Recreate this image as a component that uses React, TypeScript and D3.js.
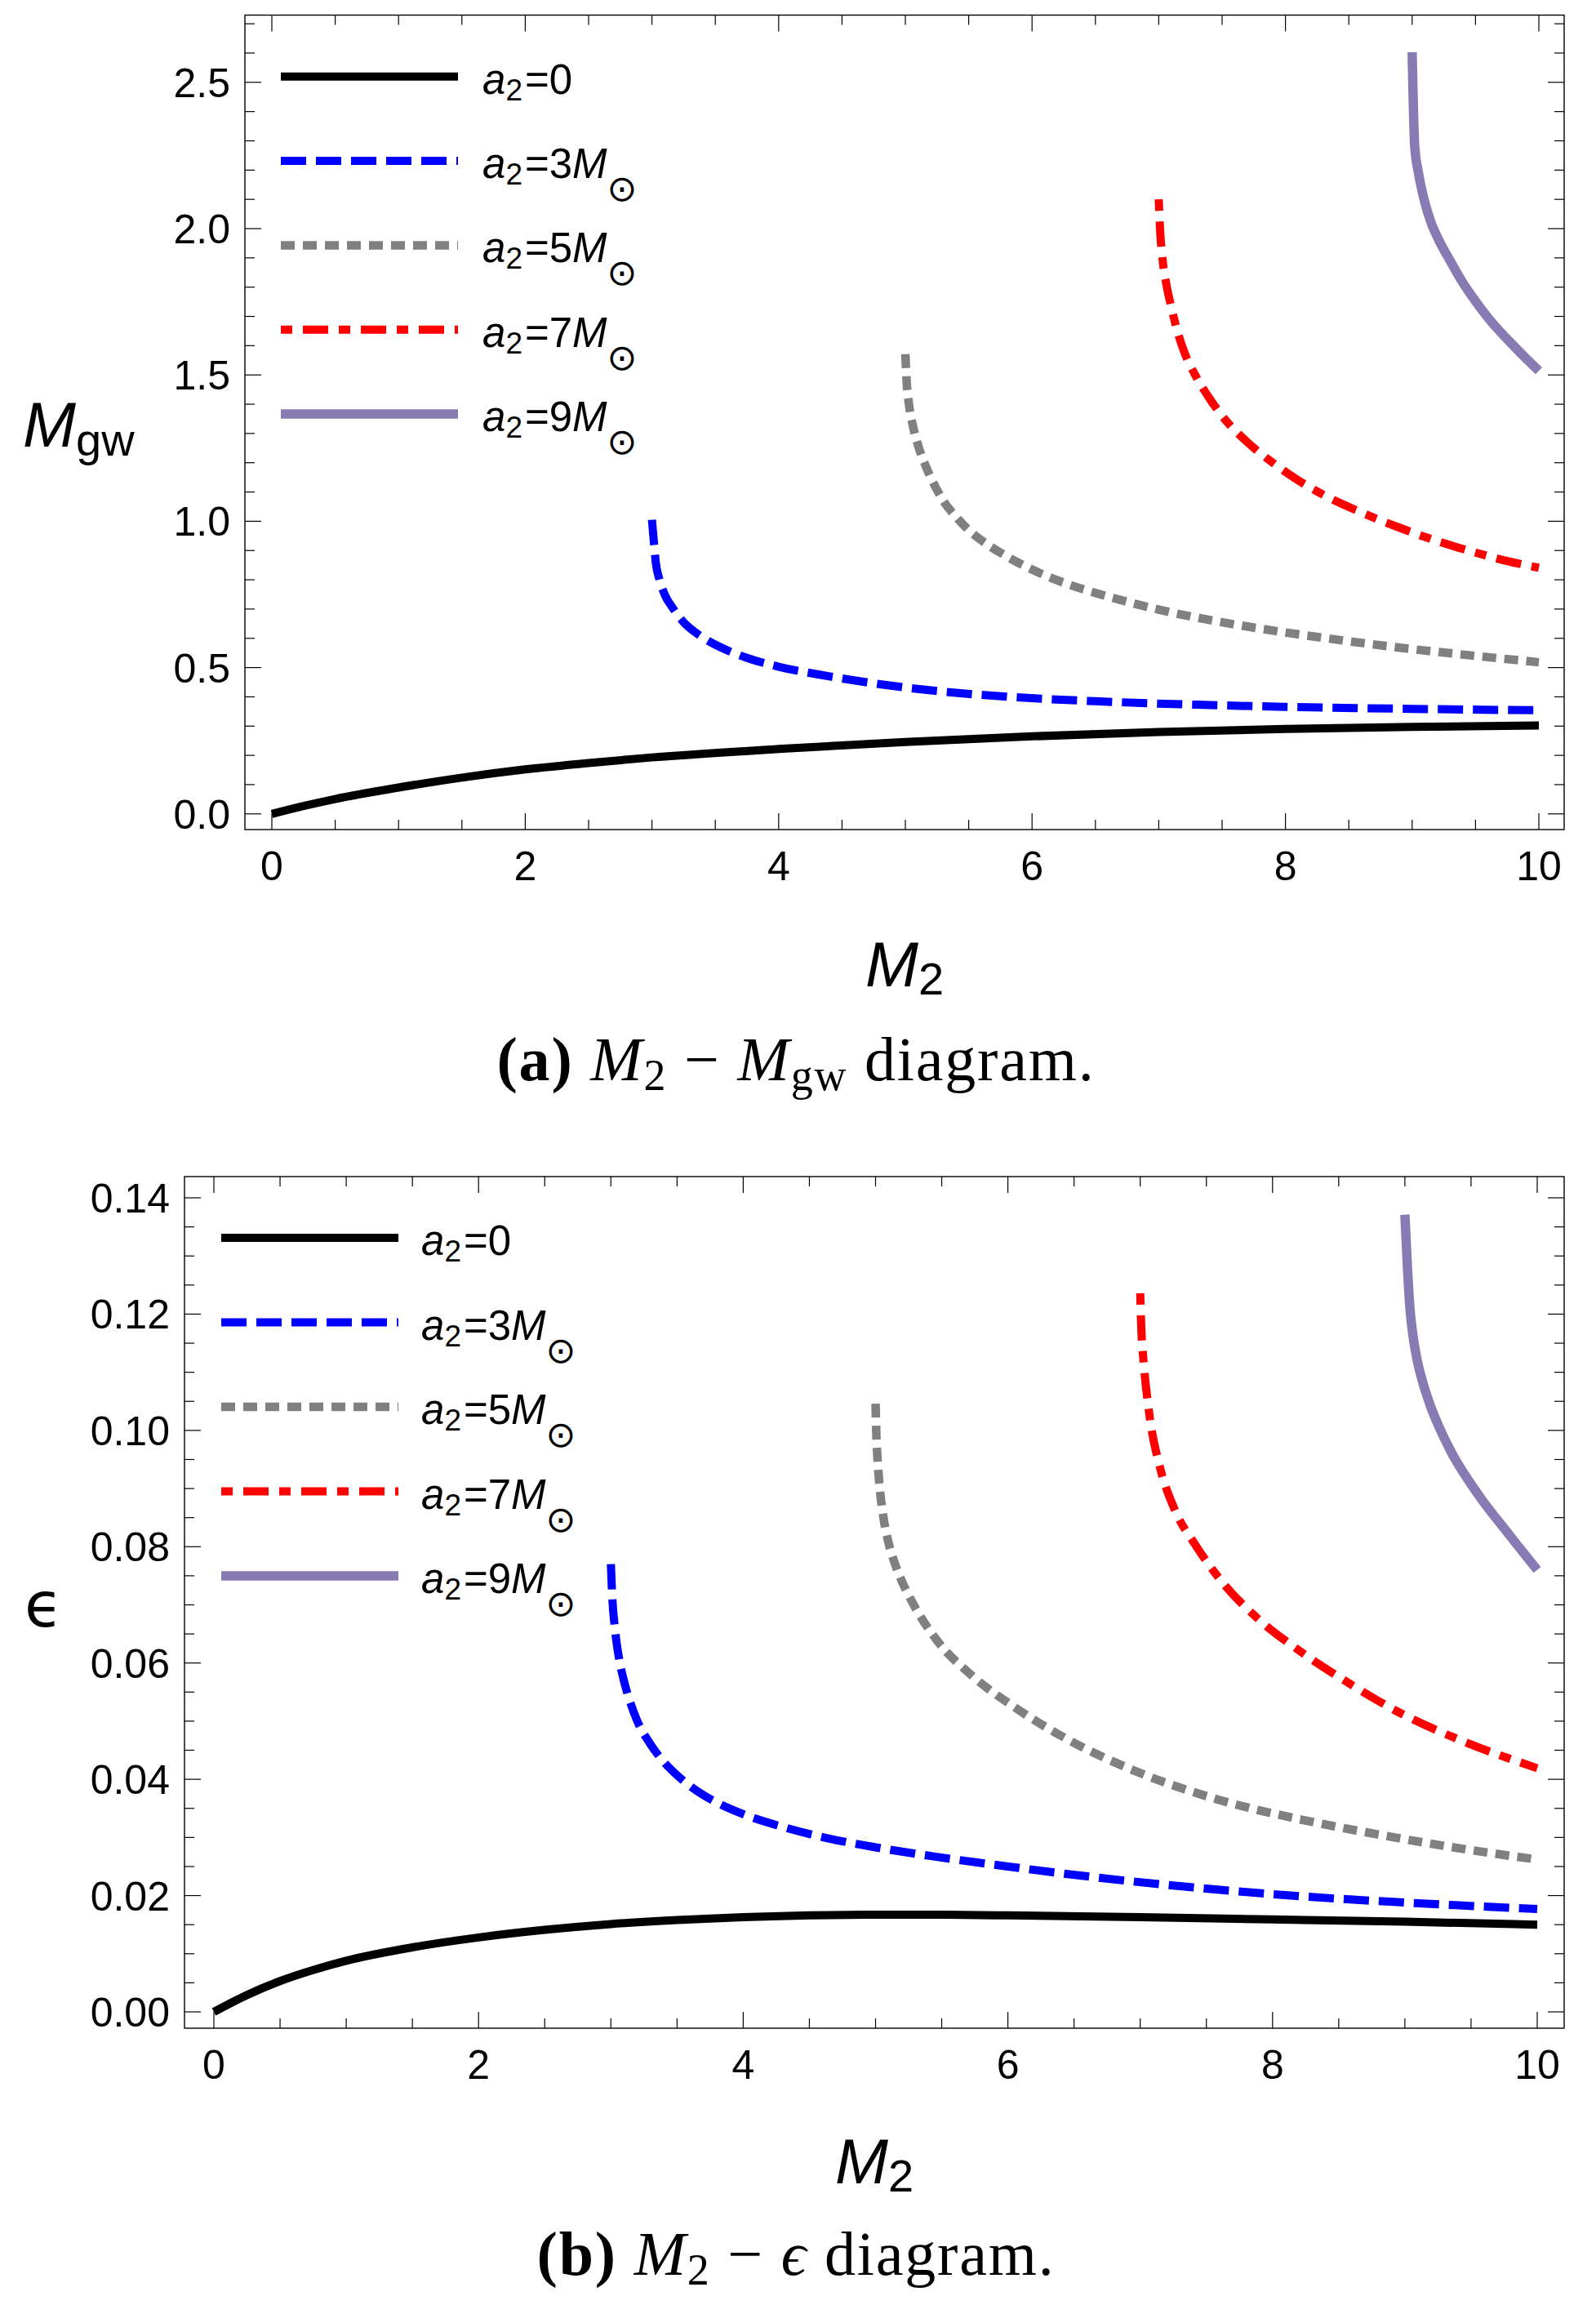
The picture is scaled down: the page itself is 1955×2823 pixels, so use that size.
import React from "react";
import * as d3 from "d3";

type Pt = [number, number];

// ---------- tick values ----------
const M2_TICKS = [0, 2, 4, 6, 8, 10];
const MGW_TICKS = [0, 0.5, 1.0, 1.5, 2.0, 2.5];
const EPS_TICKS = [0, 0.02, 0.04, 0.06, 0.08, 0.1, 0.12, 0.14];
const A2_VALUES = ["0", "3", "5", "7", "9"];

// ---------- panel (a): M2 - Mgw ----------
const mgwA0: Pt[] = [
  [0, 0], [0.25, 0.027], [0.5, 0.051], [1.0, 0.09], [1.5, 0.124], [2.0, 0.152], [2.5, 0.174], [3.0, 0.193],
  [4.0, 0.222], [5.0, 0.246], [6.0, 0.265], [7.0, 0.28], [8.0, 0.29], [9.0, 0.297], [10.0, 0.302],
];
const mgwA3: Pt[] = [
  [3.0, 1.005], [3.015, 0.93], [3.03, 0.86], [3.06, 0.8], [3.1, 0.75], [3.17, 0.7], [3.25, 0.655],
  [3.35, 0.618], [3.45, 0.59], [3.6, 0.558], [3.75, 0.533], [4.0, 0.503], [4.4, 0.47], [4.8, 0.443],
  [5.25, 0.42], [5.85, 0.399], [6.5, 0.385], [7.3, 0.373], [8.1, 0.365], [9.0, 0.359], [10.0, 0.354],
];
const mgwA5: Pt[] = [
  [5.0, 1.571], [5.01, 1.48], [5.03, 1.395], [5.06, 1.325], [5.1, 1.26], [5.15, 1.2], [5.2, 1.15],
  [5.3, 1.07], [5.4, 1.015], [5.5, 0.97], [5.65, 0.92], [5.8, 0.88], [6.0, 0.835], [6.25, 0.79],
  [6.5, 0.755], [6.75, 0.725], [7.0, 0.698], [7.5, 0.655], [8.0, 0.62], [8.5, 0.59], [9.0, 0.563],
  [9.5, 0.54], [10.0, 0.518],
];
const mgwA7: Pt[] = [
  [7.0, 2.1], [7.01, 2.0], [7.03, 1.895], [7.06, 1.81], [7.1, 1.73], [7.15, 1.645], [7.2, 1.58],
  [7.3, 1.49], [7.4, 1.42], [7.5, 1.36], [7.7, 1.27], [7.9, 1.2], [8.1, 1.14], [8.3, 1.09],
  [8.6, 1.03], [8.9, 0.978], [9.2, 0.932], [9.5, 0.893], [9.75, 0.864], [10.0, 0.841],
];
const mgwA9: Pt[] = [
  [9.0, 2.603], [9.02, 2.283], [9.05, 2.19], [9.1, 2.09], [9.15, 2.02], [9.2, 1.97], [9.3, 1.89],
  [9.4, 1.815], [9.5, 1.752], [9.6, 1.695], [9.7, 1.645], [9.8, 1.6], [9.9, 1.556], [10.0, 1.514],
];

// ---------- panel (b): M2 - epsilon ----------
const epsA0: Pt[] = [
  [0, 0], [0.25, 0.0029], [0.5, 0.0053], [0.75, 0.0072], [1.0, 0.0088], [1.5, 0.0111], [2.0, 0.0128],
  [2.5, 0.0141], [3.0, 0.0151], [3.5, 0.0158], [4.0, 0.0163], [4.5, 0.0166], [5.0, 0.0167], [5.5, 0.0167],
  [6.0, 0.0166], [7.0, 0.0163], [8.0, 0.0159], [9.0, 0.0155], [10.0, 0.015],
];
const epsA3: Pt[] = [
  [3.0, 0.077], [3.01, 0.0715], [3.03, 0.066], [3.06, 0.061], [3.1, 0.0568], [3.15, 0.053], [3.2, 0.05],
  [3.3, 0.046], [3.4, 0.043], [3.5, 0.0407], [3.65, 0.038], [3.8, 0.036], [4.0, 0.034], [4.3, 0.0318],
  [4.65, 0.0298], [5.0, 0.0283], [5.45, 0.0267], [6.0, 0.025], [6.6, 0.0233], [7.4, 0.0214],
  [8.2, 0.0199], [9.0, 0.0188], [10.0, 0.0177],
];
const epsA5: Pt[] = [
  [5.0, 0.1046], [5.005, 0.1], [5.015, 0.095], [5.03, 0.0905], [5.06, 0.085], [5.1, 0.0805],
  [5.14, 0.0775], [5.2, 0.074], [5.26, 0.0712], [5.46, 0.064], [5.73, 0.0578], [6.05, 0.0524],
  [6.44, 0.047], [7.03, 0.0408], [7.62, 0.0363], [8.21, 0.0331], [8.8, 0.0305], [9.39, 0.0282], [10.0, 0.0262],
];
const epsA7: Pt[] = [
  [7.0, 0.1236], [7.01, 0.1165], [7.02, 0.1133], [7.07, 0.1026], [7.15, 0.0936], [7.26, 0.0864],
  [7.42, 0.0802], [7.62, 0.0739], [7.89, 0.0676], [8.21, 0.062], [8.6, 0.0562], [8.99, 0.0511],
  [9.39, 0.047], [10.0, 0.0419],
];
const epsA9: Pt[] = [
  [9.0, 0.1371], [9.02, 0.1277], [9.04, 0.1205], [9.06, 0.1165], [9.09, 0.1124], [9.12, 0.1095],
  [9.19, 0.1044], [9.26, 0.1005], [9.35, 0.0963], [9.55, 0.0891], [9.79, 0.082], [10.0, 0.076],
];

const STYLES = [
  { color: "#000000", width: 10, dash: "none" },
  { color: "#0000ff", width: 10, dash: "31,12" },
  { color: "#808080", width: 10.5, dash: "17,10" },
  { color: "#ff0000", width: 10, dash: "14,13,31,13" },
  { color: "#887bb4", width: 11.5, dash: "none" },
];

const SANS = "'Liberation Sans', Arial, Helvetica, sans-serif";
const SERIF = "'Liberation Serif', 'Times New Roman', serif";

type PanelProps = {
  frame: { l: number; r: number; t: number; b: number };
  xRange: [number, number];
  yDomain: [number, number];
  yRange: [number, number];
  yTicks: number[];
  yMinorStep: number;
  yMinorMax: number;
  yFmt: (v: number) => string;
  series: Pt[][];
  legend: { x1: number; x2: number; y0: number; step: number; tx: number };
  yLabel: React.ReactNode;
  xLabelX: number;
  xLabelY: number;
};

function near(v: number, arr: number[], eps: number) {
  return arr.some((a) => Math.abs(a - v) < eps);
}

function Panel(p: PanelProps) {
  const x = d3.scaleLinear().domain([0, 10]).range(p.xRange);
  const y = d3.scaleLinear().domain(p.yDomain).range(p.yRange);
  const line = d3
    .line<Pt>()
    .x((d) => x(d[0]))
    .y((d) => y(d[1]))
    .curve(d3.curveMonotoneX);
  const { l, r, t, b } = p.frame;
  const xMinor = d3.range(0, 10.0001, 0.5).filter((v) => !near(v, M2_TICKS, 1e-6));
  const yMinor = d3
    .range(0, p.yMinorMax + p.yMinorStep * 0.01, p.yMinorStep)
    .filter((v) => !near(v, p.yTicks, p.yMinorStep * 0.01));
  const MAJ = 20;
  const MIN = 12;
  const tk = { stroke: "#000", strokeWidth: 1.2 };
  return (
    <g>
      {p.series.map((s, i) => (
        <path
          key={"c" + i}
          d={line(s) || ""}
          fill="none"
          stroke={STYLES[i].color}
          strokeWidth={STYLES[i].width}
          strokeDasharray={STYLES[i].dash}
          strokeLinecap="butt"
          strokeLinejoin="round"
        />
      ))}
      <rect x={l} y={t} width={r - l} height={b - t} fill="none" stroke="#000" strokeWidth={1.4} />
      {M2_TICKS.map((v) => (
        <g key={"xm" + v}>
          <line x1={x(v)} x2={x(v)} y1={b} y2={b - MAJ} {...tk} />
          <line x1={x(v)} x2={x(v)} y1={t} y2={t + MAJ} {...tk} />
          <text x={x(v)} y={b + 61.5} fontSize={50} textAnchor="middle" fontFamily={SANS}>
            {String(v)}
          </text>
        </g>
      ))}
      {xMinor.map((v) => (
        <g key={"xn" + v}>
          <line x1={x(v)} x2={x(v)} y1={b} y2={b - MIN} {...tk} />
          <line x1={x(v)} x2={x(v)} y1={t} y2={t + MIN} {...tk} />
        </g>
      ))}
      {p.yTicks.map((v) => (
        <g key={"ym" + v}>
          <line x1={l} x2={l + MAJ} y1={y(v)} y2={y(v)} {...tk} />
          <line x1={r} x2={r - MAJ} y1={y(v)} y2={y(v)} {...tk} />
          <text x={l - 18} y={y(v) + 18} fontSize={50} textAnchor="end" fontFamily={SANS}>
            {p.yFmt(v)}
          </text>
        </g>
      ))}
      {yMinor.map((v) => (
        <g key={"yn" + v}>
          <line x1={l} x2={l + MIN} y1={y(v)} y2={y(v)} {...tk} />
          <line x1={r} x2={r - MIN} y1={y(v)} y2={y(v)} {...tk} />
        </g>
      ))}
      {A2_VALUES.map((a, i) => {
        const ly = p.legend.y0 + i * p.legend.step;
        return (
          <g key={"lg" + i}>
            <line
              x1={p.legend.x1}
              x2={p.legend.x2}
              y1={ly}
              y2={ly}
              stroke={STYLES[i].color}
              strokeWidth={STYLES[i].width}
              strokeDasharray={STYLES[i].dash}
            />
            <text x={p.legend.tx} y={ly + 21} fontSize={51} fontFamily={SANS}>
              <tspan fontStyle="italic">a</tspan>
              <tspan fontSize={37} dy={8}>2</tspan>
              <tspan dy={-8} dx={3}>{"=" + a}</tspan>
              {a !== "0" && <tspan fontStyle="italic">M</tspan>}
              {a !== "0" && (
                <tspan fontFamily="'DejaVu Sans', sans-serif" fontSize={44} dy={28} dx={0}>
                  {"\u2299"}
                </tspan>
              )}
            </text>
          </g>
        );
      })}
      {p.yLabel}
      <text x={p.xLabelX} y={p.xLabelY} fontSize={78} textAnchor="middle" fontFamily={SANS}>
        <tspan fontStyle="italic">M</tspan>
        <tspan fontSize={56} dy={10}>2</tspan>
      </text>
    </g>
  );
}

function Caption({ tag, y, second }: { tag: string; y: number; second: "gw" | "eps" }) {
  return (
    <text x={975} y={y} fontSize={76} textAnchor="middle" fontFamily={SERIF} letterSpacing={1.8}>
      <tspan fontWeight="bold">{"(" + tag + ")"}</tspan>
      <tspan> </tspan>
      <tspan fontStyle="italic">M</tspan>
      <tspan fontSize={54} dy={12}>2</tspan>
      <tspan dy={-12}>{" \u2212 "}</tspan>
      {second === "gw" ? (
        <>
          <tspan fontStyle="italic">M</tspan>
          <tspan fontSize={54} dy={12}>gw</tspan>
          <tspan dy={-12}>{" diagram."}</tspan>
        </>
      ) : (
        <>
          <tspan fontStyle="italic">{"\u03f5"}</tspan>
          <tspan>{" diagram."}</tspan>
        </>
      )}
    </text>
  );
}

export default function App() {
  const W = 1955;
  const H = 2823;
  return (
    <svg
      width={W}
      height={H}
      viewBox={`0 0 ${W} ${H}`}
      style={{ position: "absolute", left: 0, top: 0, background: "#fff", display: "block" }}
    >
      <rect x={0} y={0} width={W} height={H} fill="#fff" />
      <Panel
        frame={{ l: 300, r: 1916, t: 18.5, b: 1016 }}
        xRange={[333, 1885]}
        yDomain={[0, 2.5]}
        yRange={[996.8, 100.8]}
        yTicks={MGW_TICKS}
        yMinorStep={0.1}
        yMinorMax={2.7}
        yFmt={d3.format(".1f")}
        series={[mgwA0, mgwA3, mgwA5, mgwA7, mgwA9]}
        legend={{ x1: 344, x2: 561, y0: 93.8, step: 103.3, tx: 591 }}
        yLabel={
          <text x={28} y={547} fontSize={78} fontFamily={SANS}>
            <tspan fontStyle="italic">M</tspan>
            <tspan fontSize={56} dy={11}>gw</tspan>
          </text>
        }
        xLabelX={1108}
        xLabelY={1208}
      />
      <Caption tag="a" y={1323} second="gw" />
      <Panel
        frame={{ l: 226, r: 1916, t: 1441, b: 2484 }}
        xRange={[262, 1883]}
        yDomain={[0, 0.14]}
        yRange={[2464, 1467]}
        yTicks={EPS_TICKS}
        yMinorStep={0.005}
        yMinorMax={0.14}
        yFmt={d3.format(".2f")}
        series={[epsA0, epsA3, epsA5, epsA7, epsA9]}
        legend={{ x1: 271, x2: 488, y0: 1516, step: 103.5, tx: 516 }}
        yLabel={
          <text x={30} y={1992} fontSize={76} fontFamily="'DejaVu Sans', sans-serif">
            {"\u03f5"}
          </text>
        }
        xLabelX={1071}
        xLabelY={2674}
      />
      <Caption tag="b" y={2786} second="eps" />
    </svg>
  );
}
